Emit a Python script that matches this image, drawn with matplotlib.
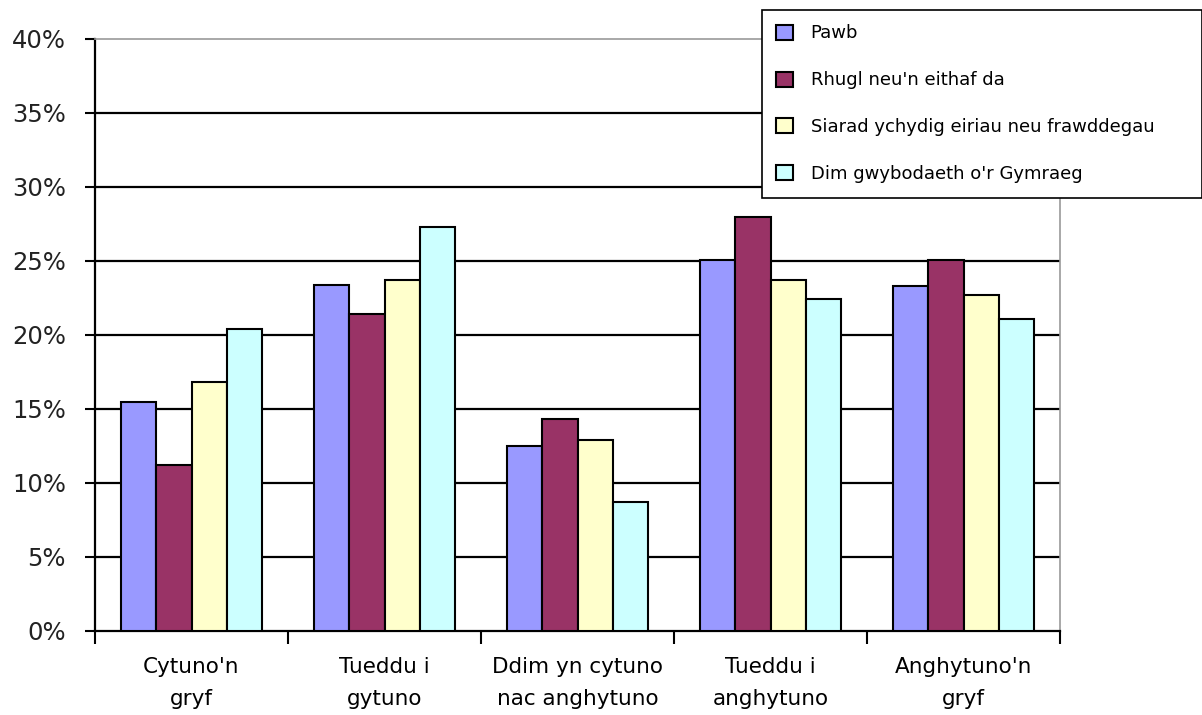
import numpy as np
import matplotlib
matplotlib.use("Agg")
import matplotlib.pyplot as plt
from matplotlib.ticker import PercentFormatter, FixedLocator


categories = [
    "Cytuno'n\ngryf",
    "Tueddu i\ngytuno",
    "Ddim yn cytuno\nnac anghytuno",
    "Tueddu i\nanghytuno",
    "Anghytuno'n\ngryf",
]

series_names = [
    "Pawb",
    "Rhugl neu'n eithaf da",
    "Siarad ychydig eiriau neu frawddegau",
    "Dim gwybodaeth o'r Gymraeg",
]

pawb = [15.5, 23.4, 12.5, 25.1, 23.3]
rhugl = [11.2, 21.4, 14.3, 28.0, 25.1]
siarad = [16.8, 23.7, 12.9, 23.7, 22.7]
dim = [20.4, 27.3, 8.7, 22.4, 21.1]

colors = ["#9999FF", "#993366", "#FFFFCC", "#CCFFFF"]


def main():
    plt.rcParams["font.family"] = ["DejaVu Sans"]

    fig = plt.figure(figsize=(12.02, 7.15), dpi=100)
    ax = fig.add_axes([95 / 1202, 1 - 631 / 715, 965 / 1202, 592 / 715])

    x = np.arange(len(categories))
    width = 0.183
    all_series = [pawb, rhugl, siarad, dim]

    for j, (name, vals, col) in enumerate(zip(series_names, all_series, colors)):
        offs = (j - 1.5) * width
        ax.bar(x + offs, vals, width, color=col, edgecolor="black",
               linewidth=1.5, label=name, zorder=3)

    ax.set_xlim(-0.5, len(categories) - 0.5)
    ax.set_ylim(0, 40)
    ax.set_yticks(np.arange(0, 41, 5))
    ax.yaxis.set_major_formatter(PercentFormatter(xmax=100, decimals=0))

    # gridlines (black, like the old excel chart)
    for yv in np.arange(5, 40, 5):
        ax.axhline(yv, color="black", linewidth=1.6, zorder=1)

    ax.set_xticks(x)
    ax.set_xticklabels(categories, fontsize=15.5, linespacing=1.7)
    ax.xaxis.set_minor_locator(FixedLocator(np.arange(-0.5, len(categories), 1)))
    ax.tick_params(axis="x", which="major", length=0, pad=19)
    ax.tick_params(axis="x", which="minor", length=9, width=1.5, color="black")
    ax.tick_params(axis="y", length=7, width=1.5, pad=14, labelsize=17.5,
                   labelcolor="#222222")

    for side in ["left", "bottom"]:
        ax.spines[side].set_color("black")
        ax.spines[side].set_linewidth(1.6)
    for side in ["top", "right"]:
        ax.spines[side].set_color("#999999")
        ax.spines[side].set_linewidth(1.2)

    leg = fig.legend(
        loc="upper left",
        bbox_to_anchor=(762 / 1202, 1 - 10 / 715, 1 - 762 / 1202, 0.0),
        mode="expand",
        fontsize=13,
        frameon=True,
        fancybox=False,
        edgecolor="black",
        framealpha=1,
        handlelength=0.9,
        handleheight=0.9,
        handletextpad=1.0,
        labelspacing=1.6,
        borderpad=0.8,
        borderaxespad=0,
    )
    leg.get_frame().set_linewidth(1.2)
    leg.set_zorder(10)

    fig.savefig("out.png", dpi=100)
    plt.close(fig)


if __name__ == "__main__":
    main()
